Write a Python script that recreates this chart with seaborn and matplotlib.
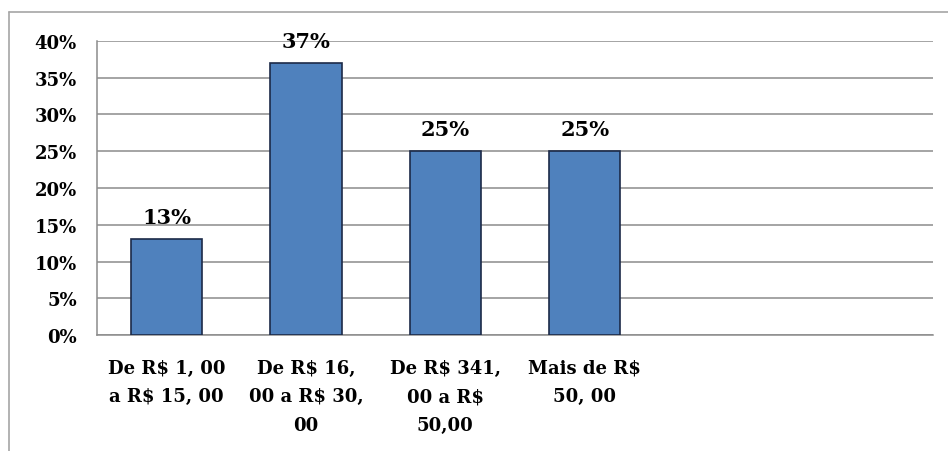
import matplotlib
matplotlib.use('Agg')
import matplotlib.pyplot as plt
import seaborn as sns
from matplotlib.lines import Line2D

# データ
categorias = ['De R\\$ 1, 00\na R\\$ 15, 00',
              'De R\\$ 16,\n00 a R\\$ 30,\n00',
              'De R\\$ 341,\n00 a R\\$\n50,00',
              'Mais de R\\$\n50, 00']
valores = [13, 37, 25, 25]
yticks = [0, 5, 10, 15, 20, 25, 30, 35, 40]

sns.set_theme(style='white')
plt.rcParams['font.family'] = ['DejaVu Serif']
plt.rcParams['font.weight'] = 'bold'
plt.rcParams['text.color'] = 'black'

fig = plt.figure(figsize=(9.48, 4.52), dpi=100)
ax = fig.add_axes([97/948, 1 - 336/452, (933 - 97)/948, (336 - 42)/452])

sns.barplot(x=categorias, y=valores, ax=ax, color='#4F81BD',
            edgecolor='#1c2a48', linewidth=1.2, width=0.51, saturation=1, zorder=3)

ax.set_xlim(-0.5, 5.5)
ax.set_ylim(0, 40)
ax.set_yticks(yticks)
ax.set_yticklabels([f'{v}%' for v in yticks], fontsize=13, fontweight='bold')
ax.yaxis.grid(True, color='#8c8c8c', linewidth=1.1, zorder=0)
ax.set_axisbelow(True)

# marcas entre categorias, rotulos no centro
ax.set_xticks([i - 0.5 for i in range(7)])
ax.set_xticklabels([''] * 7)
ax.set_xticks(range(len(categorias)), minor=True)
ax.set_xticklabels(categorias, minor=True, fontsize=13, fontweight='bold',
                   linespacing=1.75, ha='center', multialignment='center')
ax.tick_params(axis='x', which='major', length=6, width=1, color='#8c8c8c', direction='out')
ax.tick_params(axis='x', which='minor', length=0, pad=17, labelcolor='black')
ax.tick_params(axis='y', length=6.5, width=1, color='#8c8c8c', direction='out', pad=8,
               labelcolor='black')
ax.set_xlabel(''); ax.set_ylabel('')
for s in ['top', 'right']:
    ax.spines[s].set_visible(False)
for s in ['left', 'bottom']:
    ax.spines[s].set_color('#8c8c8c'); ax.spines[s].set_linewidth(1.1)

# rotulos de porcentagem
for cont in ax.containers:
    ax.bar_label(cont, labels=[f'{v}%' for v in valores], padding=9,
                 fontsize=15, fontweight='bold', color='black')

# moldura externa
fig.add_artist(Line2D([9/948, 9/948], [0, 1 - 13/452], color='#a6a6a6', linewidth=1.2))
fig.add_artist(Line2D([9/948, 1], [1 - 13/452, 1 - 13/452], color='#a6a6a6', linewidth=1.2))

fig.savefig('out.png', dpi=100)
